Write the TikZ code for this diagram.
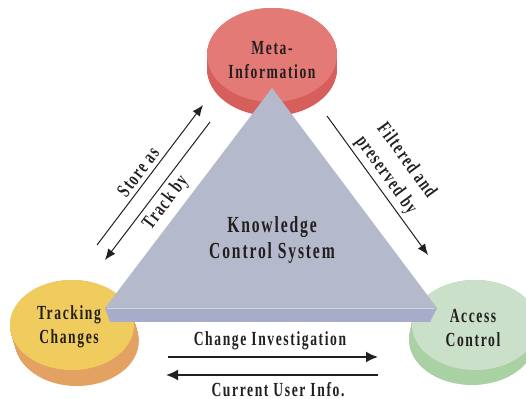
\documentclass[tikz,border=0pt]{standalone}
\usepackage{fontspec}
\usepackage{tikz}
\usetikzlibrary{arrows.meta}

\newfontfamily\diagfont[FakeStretch=0.68, LetterSpace=8]{Liberation Serif}

\definecolor{redtop}{HTML}{E47A75}
\definecolor{redside}{HTML}{D65F5B}
\definecolor{yellowtop}{HTML}{F0CC5E}
\definecolor{yellowside}{HTML}{E4A262}
\definecolor{greentop}{HTML}{CBE0C8}
\definecolor{greenside}{HTML}{A9D1A4}
\definecolor{kcsface}{HTML}{B4BACB}
\definecolor{kcsfront}{HTML}{A7ADC9}
\definecolor{textgray}{HTML}{231F20}

\begin{document}
\begin{tikzpicture}[x=1pt, y=1pt,
    label text/.style={font=\diagfont\bfseries\fontsize{20}{24}\selectfont, text=textgray, align=center, inner sep=0pt},
    core text/.style={font=\diagfont\bfseries\fontsize{23}{26}\selectfont, text=textgray, align=center, inner sep=0pt},
    flow/.style={line width=1pt, textgray, -{Latex[length=11pt, width=9pt]}},
    bigflow/.style={line width=1.8pt, textgray, -{Latex[length=12pt, width=11pt]}}]

    \useasboundingbox (0,0) rectangle (526,398);

    % --- Cylinders ---
    % Meta-Information
    \foreach \d in {0,1,...,14} {\fill[redside] (272,329+\d) ellipse (65 and 47);}
    \fill[redtop] (272,343) ellipse (65 and 47);

    % Tracking Changes
    \foreach \d in {0,1,...,16} {\fill[yellowside] ({72+0.3*\d},{73-\d}) ellipse (62 and 45);}
    \fill[yellowtop] (72,73) ellipse (62 and 45);

    % Access Control
    \foreach \d in {0,1,...,15} {\fill[greenside] ({475-0.2*\d},{73-\d}) ellipse (63 and 45);}
    \fill[greentop] (475,73) ellipse (63 and 45);

    % --- Knowledge Control System (triangle slab) ---
    \fill[kcsface] (105,90) -- (272,310) -- (437,90) -- cycle;
    \fill[kcsfront] (105,90) -- (437,90) -- (430,76) -- (110,76) -- cycle;
    \draw[kcsface!60!white, line width=1.2pt] (107,89.5) -- (435,89.5);

    % --- Texts ---
    \node[label text] (meta) at (272,338) {Meta-\\Information};
    \node[label text] (tracking) at (69,71) {Tracking\\Changes};
    \node[label text] (access) at (473,70) {Access\\Control};
    \node[core text] (kcs) at (272,158) {Knowledge\\Control System};

    % --- Arrows between the parts ---
    \coordinate (store start) at (97,153);
    \coordinate (store end) at (203,293);
    \coordinate (track start) at (210,276);
    \coordinate (track end) at (105,138);
    \coordinate (filter start) at (327,282);
    \coordinate (filter end) at (428,143);
    \coordinate (change start) at (168,41);
    \coordinate (change end) at (378,41);
    \coordinate (user start) at (378,23);
    \coordinate (user end) at (166,23);

    \draw[flow] (store start) -- (store end);
    \draw[flow] (track start) -- (track end);
    \draw[flow] (filter start) -- (filter end);
    \draw[bigflow] (change start) -- (change end);
    \draw[bigflow] (user start) -- (user end);

    % --- Arrow labels ---
    \node[label text, rotate=53] (store label) at (138,226) {Store as};
    \node[label text, rotate=53] (track label) at (166,195) {Track by};
    \node[label text, rotate=-54, font=\diagfont\bfseries\fontsize{20}{25}\selectfont] (filter label) at (396,230) {Filtered and\\preserved by};
    \node[label text, anchor=base] (change label) at (270,52) {Change Investigation};
    \node[label text, anchor=base] (user label) at (278,2) {Current User Info.};

\end{tikzpicture}
\end{document}
